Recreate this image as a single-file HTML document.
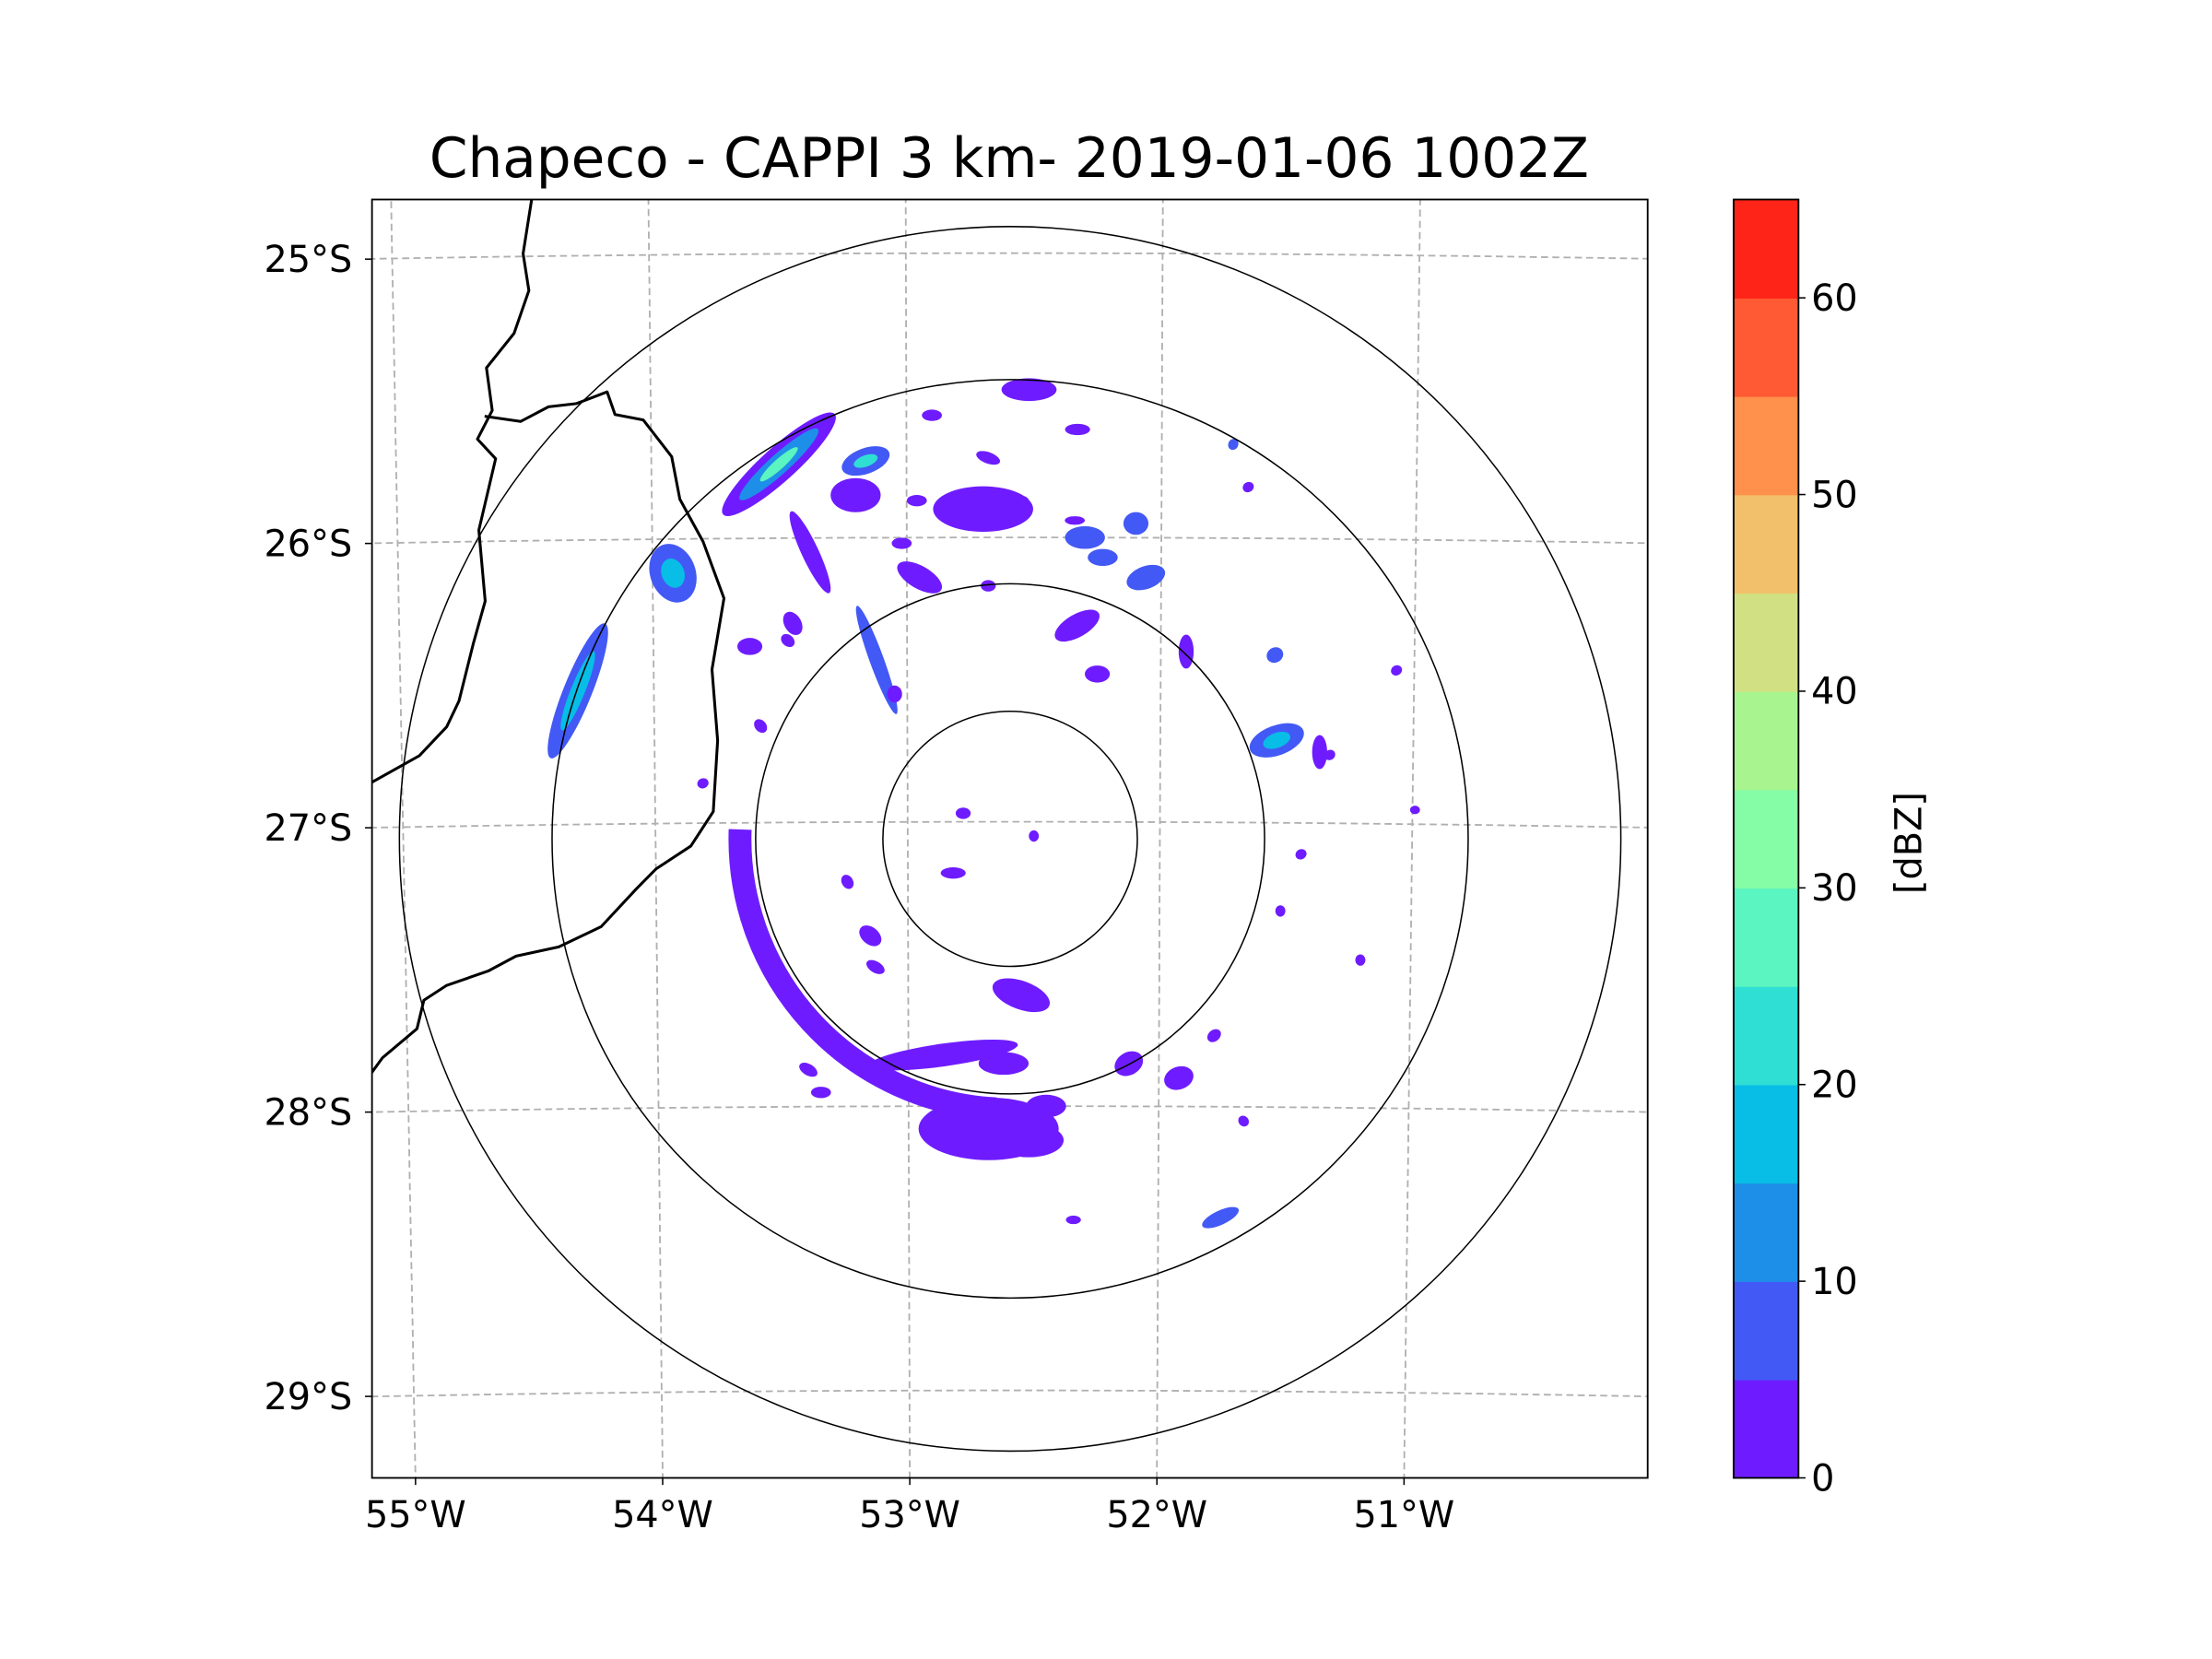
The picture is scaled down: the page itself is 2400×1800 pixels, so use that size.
<!DOCTYPE html>
<html><head><meta charset="utf-8">
<style>
html,body{margin:0;padding:0;background:#fff;overflow:hidden;width:2400px;height:1800px;}
svg{display:block;font-family:"DejaVu Sans","Liberation Sans",sans-serif;}
</style></head>
<body>
<svg id="chart" width="2400" height="1800" viewBox="0 0 1552 1164" xmlns="http://www.w3.org/2000/svg">
<rect width="1552" height="1164" fill="#fff"/>
<g transform="translate(0.9,0.4) scale(0.989,0.990)">
<text x="715" y="125" font-size="39" text-anchor="middle" fill="#000">Chapeco - CAPPI 3 km- 2019-01-06 1002Z</text>
<defs><clipPath id="plotclip"><rect x="263" y="141" width="905" height="906"/></clipPath></defs>
<g id="plot" clip-path="url(#plotclip)"></g>
<rect x="263" y="141" width="905" height="906" fill="none" stroke="#000" stroke-width="1.2"/>
<g id="axes"></g>
<g id="cbar"></g>
<text transform="translate(1362,597) rotate(-90)" font-size="26" text-anchor="middle" fill="#000">[dBZ]</text>
</g>
</svg>
<script>
// ---- data ----
const lonTicks = [-55, -54, -53, -52, -51];
const lonLabels = ["55°W", "54°W", "53°W", "52°W", "51°W"];
const latTicks = [-25, -26, -27, -28, -29];
const latLabels = ["25°S", "26°S", "27°S", "28°S", "29°S"];
const levels = [0,5,10,15,20,25,30,35,40,45,50,55,60,65];
const levelColors = ["#6e1cff","#4359f5","#1e8fe8","#08bde6","#2fdfd4","#5af5c0","#84fda6","#a8f48e","#d0e082","#f2c06a","#ff914c","#ff5a34","#ff2418"];
const cbarTicks = [0,10,20,30,40,50,60];
const radarLon = -52.594, radarLat = -27.06;
const ringKm = [50, 100, 180, 240];
// echoes: lon, lat, semi-axis lon-deg, semi-axis lat-deg, rotation(deg), dBZ
const echoLon = [-53.50,-53.50,-53.50,-53.16,-53.16,-53.92,-53.92,-54.30,-54.30,-53.38,-53.12,-52.33,-52.06,-52.23,-52.52,-52.55,-51.75,-51.54,-51.54,-52.68,-52.52,-53.20,-52.70,-52.33,-52.95,-52.30,-52.10,-51.90,-53.62,-53.05,-52.86,-52.50,-52.78,-51.37,-51.20,-52.82,-53.15,-52.45,-51.92,-53.40,-52.62,-52.25,-53.45,
  -52.90,-52.68,-53.02,-52.57,-52.34,-52.68,-51.72,-51.66,-51.55,-51.33,-51.07,-50.99,-51.44,-51.52,-51.78,-51.66,-53.35,-53.47,-53.58,-53.81,-53.24,-53.13,-52.34,-52.96,-52.12];
const echoLat = [-25.74,-25.74,-25.74,-25.73,-25.73,-26.12,-26.12,-26.53,-26.53,-26.05,-26.43,-26.31,-26.14,-26.07,-25.48,-27.61,-28.39,-26.71,-26.71,-28.08,-28.12,-25.85,-25.90,-25.62,-26.14,-26.00,-25.95,-26.40,-26.38,-26.55,-27.82,-27.05,-26.97,-26.75,-27.48,-27.18,-27.40,-28.00,-27.90,-27.87,-27.85,-26.48,-26.30,
  -25.57,-25.72,-26.02,-25.87,-25.94,-26.17,-25.67,-25.82,-26.41,-26.76,-26.46,-26.95,-27.11,-27.31,-27.75,-28.05,-27.95,-26.36,-26.66,-26.86,-27.21,-27.51,-28.40,-25.87,-27.85];
const echoRx = [0.30,0.21,0.10,0.10,0.05,0.12,0.06,0.29,0.17,0.18,0.23,0.10,0.08,0.06,0.11,0.12,0.08,0.06,0.03,0.28,0.14,0.10,0.20,0.05,0.10,0.08,0.05,0.03,0.05,0.03,0.30,0.02,0.03,0.03,0.02,0.05,0.05,0.08,0.06,0.04,0.10,0.05,0.05,
  0.04,0.05,0.04,0.05,0.04,0.03,0.02,0.02,0.03,0.02,0.02,0.02,0.02,0.02,0.03,0.02,0.04,0.03,0.03,0.02,0.03,0.04,0.03,0.04,0.06];
const echoRy = [0.06,0.035,0.018,0.045,0.02,0.08,0.04,0.05,0.025,0.03,0.025,0.04,0.04,0.03,0.04,0.05,0.025,0.10,0.05,0.11,0.06,0.06,0.08,0.02,0.04,0.04,0.04,0.06,0.03,0.03,0.04,0.02,0.02,0.06,0.02,0.02,0.03,0.04,0.04,0.02,0.04,0.03,0.03,
  0.02,0.02,0.02,0.02,0.015,0.02,0.02,0.02,0.03,0.02,0.02,0.015,0.02,0.02,0.02,0.02,0.02,0.02,0.02,0.02,0.02,0.02,0.015,0.02,0.04];
const echoRot = [-42,-42,-42,-20,-20,70,70,-68,-68,65,70,-30,-20,0,0,20,-25,70,70,0,0,0,0,0,30,0,0,0,0,0,-8,0,0,0,0,0,40,0,-20,30,0,0,60,
  0,20,0,0,0,0,30,60,60,60,60,0,60,0,-40,-40,0,40,50,70,60,30,0,0,-30];
const echoDbz = [2,12,27,8,22,8,17,8,17,2,7,2,7,7,2,2,7,8,17,2,2,2,2,2,2,7,7,2,2,2,2,2,2,2,2,2,2,2,2,2,2,2,2,
  2,2,2,2,2,2,7,2,7,2,2,2,2,2,2,2,2,2,2,2,2,2,2,2,2];
// arc echo (ring of clutter) in km and screen angle degrees
const arcRadiusKm = 106, arcStartDeg = 93, arcEndDeg = 182, arcWidthKm = 9;
// state border polyline (lon, lat)
const border1Lon = [-54.45,-54.49,-54.47,-54.53,-54.64,-54.62,-54.68,-54.61,-54.68,-54.66,-54.71,-54.77,-54.82,-54.93,-55.14];
const border1Lat = [-24.78,-24.99,-25.12,-25.27,-25.39,-25.54,-25.64,-25.71,-25.96,-26.21,-26.36,-26.56,-26.65,-26.75,-26.85];
const border2Lon = [-54.65,-54.51,-54.40,-54.29,-54.17,-54.14,-54.03,-53.92,-53.89,-53.80,-53.72,-53.77,-53.75,-53.77,-53.86,-54.00,-54.08,-54.22,-54.39,-54.56,-54.67,-54.84,-54.93,-54.96,-55.10,-55.16];
const border2Lat = [-25.56,-25.58,-25.53,-25.52,-25.48,-25.56,-25.58,-25.71,-25.86,-26.01,-26.21,-26.46,-26.71,-26.96,-27.08,-27.16,-27.23,-27.36,-27.43,-27.46,-27.51,-27.56,-27.61,-27.71,-27.81,-27.88];

// ---- axis functions ----
const SVGNS = "http://www.w3.org/2000/svg";
function xOf(lon, lat){ return 715.7 + (lon - radarLon) * (179 + (lat + 27) * 1.6); }
function yOf(lat, lon){ const d = (lon === undefined ? 0 : lon - radarLon); return 582 - (lat + 27) * 201.5 + d*d*0.65; }
const pxPerKm = 1.808;
function colorOf(v){ for (let i = levels.length - 2; i >= 0; i--) if (v >= levels[i]) return levelColors[i]; return levelColors[0]; }
function mk(tag, attrs, parent){ const e = document.createElementNS(SVGNS, tag); for (const k in attrs) e.setAttribute(k, attrs[k]); parent.appendChild(e); return e; }

const plot = document.getElementById("plot");
const axes = document.getElementById("axes");
const cbar = document.getElementById("cbar");
const cx = xOf(radarLon, radarLat), cy = yOf(radarLat, radarLon);

// grid
lonTicks.forEach((lon, i) => {
  let d = "";
  for (let lat = -24.6; lat >= -29.5; lat -= 0.1) d += (d ? "L" : "M") + xOf(lon, lat).toFixed(1) + "," + yOf(lat, lon).toFixed(1);
  const g = mk("path", {d: d, fill: "none", stroke: "#b0b0b0", "stroke-width": 1.2, "stroke-dasharray": "5,3"}, plot);
  
  
  const bx = xOf(lon, -29.3);
  const t = mk("line", {x1: bx, y1: 1047, x2: bx, y2: 1052, stroke: "#000", "stroke-width": 1}, axes);
  
  
  const lb = mk("text", {x: bx, y: 1082, "font-size": 26, "text-anchor": "middle", fill: "#000"}, axes);
  lb.textContent = lonLabels[i];
  
  
});
latTicks.forEach((lat, i) => {
  let d = "";
  for (let lon = -55.4; lon <= -49.7; lon += 0.1) d += (d ? "L" : "M") + xOf(lon, lat).toFixed(1) + "," + yOf(lat, lon).toFixed(1);
  const g = mk("path", {d: d, fill: "none", stroke: "#b0b0b0", "stroke-width": 1.2, "stroke-dasharray": "5,3"}, plot);
  
  
  const ly = yOf(lat, -55.15);
  const t = mk("line", {x1: 258, y1: ly, x2: 263, y2: ly, stroke: "#000", "stroke-width": 1}, axes);
  
  
  const lb = mk("text", {x: 249, y: ly + 9, "font-size": 26, "text-anchor": "end", fill: "#000"}, axes);
  lb.textContent = latLabels[i];
  
  
});

// arc clutter
{
  const r = arcRadiusKm * pxPerKm;
  const a0 = arcStartDeg * Math.PI / 180, a1 = arcEndDeg * Math.PI / 180;
  const d = "M" + (cx + r*Math.cos(a1)) + "," + (cy + r*Math.sin(a1)) + " A" + r + "," + r + " 0 0 0 " + (cx + r*Math.cos(a0)) + "," + (cy + r*Math.sin(a0));
  const a = mk("path", {d: d, fill: "none", stroke: colorOf(2), "stroke-width": arcWidthKm * pxPerKm}, plot);
  
  
}
// echoes
for (let i = 0; i < echoLon.length; i++) {
  const ex = xOf(echoLon[i], echoLat[i]), ey = yOf(echoLat[i], echoLon[i]);
  const e = mk("ellipse", {cx: ex, cy: ey, rx: echoRx[i] * 177.5, ry: echoRy[i] * 201.5, fill: colorOf(echoDbz[i]), transform: "rotate(" + echoRot[i] + " " + ex + " " + ey + ")"}, plot);
  
  
}
// border
[[border1Lon, border1Lat], [border2Lon, border2Lat]].forEach(([lo, la]) => {
  let d = "";
  for (let i = 0; i < lo.length; i++) d += (i ? "L" : "M") + xOf(lo[i], la[i]).toFixed(1) + "," + yOf(la[i], lo[i]).toFixed(1);
  const b = mk("path", {d: d, fill: "none", stroke: "#000", "stroke-width": 2, "stroke-linejoin": "round"}, plot);
  
  
});
// range rings
ringKm.forEach(km => {
  const c = mk("ellipse", {cx: cx, cy: cy, rx: km * pxPerKm * 0.9985, ry: km * pxPerKm, fill: "none", stroke: "#000", "stroke-width": 1}, plot);
  
  
});

// colorbar
const cbTop = 141, cbBot = 1047, cbX = 1229, cbW = 46;
const cbY = v => cbBot - (v - levels[0]) / (levels[levels.length-1] - levels[0]) * (cbBot - cbTop);
for (let i = 0; i < levelColors.length; i++) {
  const r = mk("rect", {x: cbX, y: cbY(levels[i+1]), width: cbW, height: cbY(levels[i]) - cbY(levels[i+1]) + 0.5, fill: levelColors[i]}, cbar);
  
  
}
const fr = mk("rect", {x: cbX, y: cbTop, width: cbW, height: cbBot - cbTop, fill: "none", stroke: "#000", "stroke-width": 1.2}, cbar);


cbarTicks.forEach(v => {
  const t = mk("line", {x1: cbX + cbW, y1: cbY(v), x2: cbX + cbW + 5, y2: cbY(v), stroke: "#000", "stroke-width": 1}, cbar);
  
  
  const l = mk("text", {x: cbX + cbW + 9, y: cbY(v) + 9, "font-size": 26, fill: "#000"}, cbar);
  l.textContent = String(v);
  
  
});
</script>
</body></html>
